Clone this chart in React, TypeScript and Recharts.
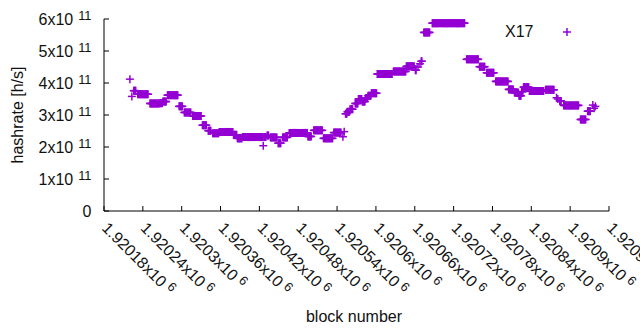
import {
  ScatterChart,
  Scatter,
  XAxis,
  YAxis,
  Legend,
  Label,
} from 'recharts';

const COLOR = '#9400d3';
const FONT = '"Liberation Sans", Arial, sans-serif';
const TEXT = '#111';

// runs of consecutive blocks that share the same hashrate (h/s)
const runStart = [
  1920220, 1920223, 1920226, 1920232, 1920251, 1920266, 1920271, 1920278, 1920296, 1920304,
  1920317, 1920332, 1920341, 1920348, 1920358, 1920380, 1920386, 1920394, 1920426, 1920427,
  1920432, 1920437, 1920449, 1920456, 1920466, 1920495, 1920504, 1920519, 1920535, 1920549,
  1920551, 1920553, 1920556, 1920560, 1920568, 1920573, 1920579, 1920584, 1920588, 1920593,
  1920602, 1920627, 1920647, 1920661, 1920665, 1920668, 1920670, 1920674, 1920687, 1920740,
  1920760, 1920771, 1920785, 1920805, 1920814, 1920821, 1920825, 1920828, 1920837, 1920862,
  1920879, 1920881, 1920884, 1920890, 1920916, 1920927, 1920935, 1920937, 1920939,
];
const runEnd = [
  1920220, 1920223, 1920229, 1920248, 1920265, 1920270, 1920276, 1920294, 1920301, 1920314,
  1920330, 1920338, 1920345, 1920357, 1920379, 1920385, 1920393, 1920425, 1920426, 1920430,
  1920434, 1920447, 1920453, 1920463, 1920494, 1920500, 1920517, 1920533, 1920546, 1920549,
  1920551, 1920555, 1920559, 1920564, 1920572, 1920578, 1920583, 1920587, 1920592, 1920601,
  1920625, 1920646, 1920659, 1920662, 1920665, 1920668, 1920671, 1920683, 1920737, 1920758,
  1920768, 1920782, 1920804, 1920812, 1920820, 1920824, 1920827, 1920836, 1920859, 1920875,
  1920879, 1920881, 1920886, 1920913, 1920924, 1920931, 1920935, 1920937, 1920939,
];
const runRate = [
  4.12e11, 3.58e11, 3.76e11, 3.65e11, 3.36e11, 3.37e11, 3.42e11, 3.62e11, 3.27e11, 3.08e11,
  2.97e11, 2.68e11, 2.51e11, 2.43e11, 2.47e11, 2.38e11, 2.27e11, 2.31e11, 2.04e11, 2.31e11,
  2.36e11, 2.30e11, 2.12e11, 2.30e11, 2.44e11, 2.33e11, 2.52e11, 2.27e11, 2.45e11, 2.32e11,
  2.48e11, 3.04e11, 3.10e11, 3.18e11, 3.36e11, 3.50e11, 3.42e11, 3.53e11, 3.60e11, 3.68e11,
  4.28e11, 4.36e11, 4.52e11, 4.40e11, 4.50e11, 4.60e11, 4.68e11, 5.58e11, 5.87e11, 4.74e11,
  4.51e11, 4.32e11, 4.05e11, 3.80e11, 3.70e11, 3.60e11, 3.73e11, 3.87e11, 3.75e11, 3.79e11,
  3.54e11, 3.50e11, 3.44e11, 3.30e11, 2.86e11, 3.12e11, 3.31e11, 3.21e11, 3.27e11,
];

const xTicks = [
  1920180, 1920240, 1920300, 1920360, 1920420, 1920480, 1920540,
  1920600, 1920660, 1920720, 1920780, 1920840, 1920900, 1920960,
];
const yTicks = [0, 1e11, 2e11, 3e11, 4e11, 5e11, 6e11];

const points = runStart.flatMap((s, i) =>
  Array.from({ length: runEnd[i] - s + 1 }, (_, k) => ({ block: s + k, rate: runRate[i] }))
);

function Plus({ cx, cy }: { cx: number; cy: number }) {
  return (
    <g stroke={COLOR} strokeWidth={1.5}>
      <line x1={cx - 4} x2={cx + 4} y1={cy} y2={cy} />
      <line x1={cx} x2={cx} y1={cy - 4} y2={cy + 4} />
    </g>
  );
}

function YTick({ x, y, payload }: any) {
  const mant = payload.value / 1e11;
  return (
    <g>
      <line x1={x} x2={x + 5} y1={y} y2={y} stroke="#000" />
      <text x={x - 12.5} y={y} dy={5.6} textAnchor="end" fontSize={16} fontFamily={FONT} fill={TEXT}>
        {mant === 0 ? (
          '0'
        ) : (
          <>
            <tspan>{mant}x10</tspan>
            <tspan dx={5} dy={-5} fontSize={12.8}>11</tspan>
          </>
        )}
      </text>
    </g>
  );
}

function XTick({ x, y, payload }: any) {
  const label = String(Number((payload.value / 1e6).toPrecision(6)));
  return (
    <g>
      <line x1={x} x2={x} y1={y} y2={y - 5} stroke="#000" />
      <text transform={`translate(${x - 3},${y + 18}) rotate(45)`} fontSize={16} fontFamily={FONT} fill={TEXT}>
        <tspan>{label}x10</tspan>
        <tspan dx={4} dy={-5} fontSize={12.8}>6</tspan>
      </text>
    </g>
  );
}

function TopTick({ x, y }: any) {
  return <line x1={x} x2={x} y1={y} y2={y + 5} stroke="#000" />;
}

function RightTick({ x, y }: any) {
  return <line x1={x} x2={x - 5} y1={y} y2={y} stroke="#000" />;
}

function LegendBox() {
  return (
    <svg width={100} height={24}>
      <text x={5} y={17} fontSize={16} fontFamily={FONT} fill={TEXT}>X17</text>
      <Plus cx={67} cy={12} />
    </svg>
  );
}

export default function App() {
  return (
    <div style={{ position: 'fixed', left: 0, top: 0, width: 640, height: 330, background: '#fff' }}>
      <ScatterChart width={640} height={330} margin={{ top: 19, right: 31, left: 0, bottom: 0 }}>
        <XAxis
          xAxisId="bottom"
          type="number"
          dataKey="block"
          domain={[1920180, 1920960]}
          ticks={xTicks}
          allowDataOverflow
          height={119}
          tickSize={0}
          tickMargin={0}
          tickLine={false}
          axisLine={{ stroke: '#000' }}
          tick={<XTick />}
          interval={0}
        >
          <Label
            content={({ viewBox }: any) => (
              <text
                x={viewBox.x + viewBox.width / 2 - 2.5}
                y={viewBox.y + 110.5}
                textAnchor="middle"
                fontSize={16}
                fontFamily={FONT}
                fill={TEXT}
              >
                block number
              </text>
            )}
          />
        </XAxis>
        <XAxis
          xAxisId="top"
          orientation="top"
          type="number"
          dataKey="block"
          domain={[1920180, 1920960]}
          ticks={xTicks}
          allowDataOverflow
          height={0}
          tickSize={0}
          tickMargin={0}
          tickLine={false}
          axisLine={{ stroke: '#000' }}
          tick={<TopTick />}
          interval={0}
        />
        <YAxis
          yAxisId="left"
          type="number"
          dataKey="rate"
          domain={[0, 6e11]}
          ticks={yTicks}
          allowDataOverflow
          width={104}
          tickSize={0}
          tickMargin={0}
          tickLine={false}
          axisLine={{ stroke: '#000' }}
          tick={<YTick />}
          interval={0}
        >
          <Label
            content={({ viewBox }: any) => (
              <text
                transform={`translate(${viewBox.x + 22.5},${viewBox.y + viewBox.height / 2}) rotate(-90)`}
                textAnchor="middle"
                fontSize={16}
                fontFamily={FONT}
                fill={TEXT}
              >
                hashrate [h/s]
              </text>
            )}
          />
        </YAxis>
        <YAxis
          yAxisId="right"
          orientation="right"
          type="number"
          dataKey="rate"
          domain={[0, 6e11]}
          ticks={yTicks}
          allowDataOverflow
          width={0}
          tickSize={0}
          tickMargin={0}
          tickLine={false}
          axisLine={{ stroke: '#000' }}
          tick={<RightTick />}
          interval={0}
        />
        <Legend
          layout="horizontal"
          verticalAlign="middle"
          align="center"
          wrapperStyle={{ top: 20, left: 500, width: 100, height: 24 }}
          content={() => <LegendBox />}
        />
        <Scatter
          name="X17"
          data={points}
          xAxisId="bottom"
          yAxisId="left"
          fill={COLOR}
          isAnimationActive={false}
          shape={(p: any) => <Plus cx={p.cx} cy={p.cy} />}
        />
      </ScatterChart>
    </div>
  );
}
